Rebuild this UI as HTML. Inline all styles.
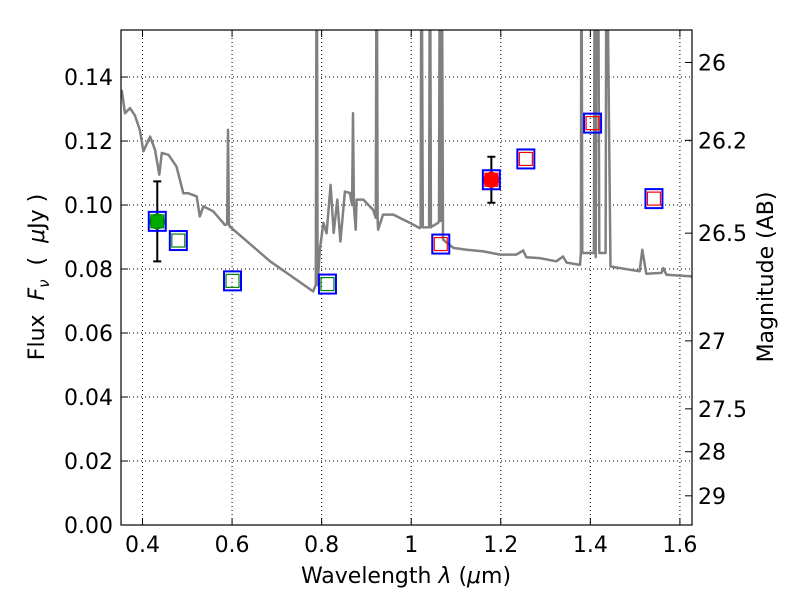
<!DOCTYPE html>
<html><head><meta charset="utf-8"><style>
body{margin:0;background:#fff;}
svg{display:block;font-family:"DejaVu Sans","Liberation Sans",sans-serif;}
</style></head><body>
<svg id="chart" width="800" height="600" viewBox="0 0 800 600" xmlns="http://www.w3.org/2000/svg">
<rect x="0" y="0" width="800" height="600" fill="#fff"/>
<g id="grid"></g>
<g id="spec"></g>
<g id="pts"></g>
<g id="axes"></g>
<text x="406" y="583" font-size="22" text-anchor="middle">Wavelength  <tspan font-style="italic">λ</tspan> (<tspan font-style="italic">μ</tspan>m)</text>
<text transform="translate(44,277) rotate(-90)" font-size="22" text-anchor="middle" xml:space="preserve">Flux  <tspan font-style="italic">F</tspan><tspan font-style="italic" font-size="15" dy="5">ν</tspan><tspan dy="-5">  (  </tspan><tspan font-style="italic">μ</tspan>Jy )</text>
<text transform="translate(773,277) rotate(-90)" font-size="22" text-anchor="middle">Magnitude (AB)</text>
</svg>
<script>
const xTicks=[0.4,0.6,0.8,1.0,1.2,1.4,1.6];
const xTickLabels=["0.4","0.6","0.8","1","1.2","1.4","1.6"];
const yTicks=[0,0.02,0.04,0.06,0.08,0.10,0.12,0.14];
const yTickLabels=["0.00","0.02","0.04","0.06","0.08","0.10","0.12","0.14"];
const magTicks=[26,26.2,26.5,27,27.5,28,29];
const magTickLabels=["26","26.2","26.5","27","27.5","28","29"];
const specLam=[0.3535,0.361,0.372,0.383,0.394,0.402,0.417,0.428,0.4375,0.443,0.458,0.476,0.491,0.502,0.521,0.528,0.536,0.558,0.584,0.589,0.591,0.593,0.595,0.685,0.781,0.787,0.789,0.791,0.796,0.804,0.811,0.82,0.827,0.835,0.842,0.852,0.863,0.868,0.87,0.872,0.876,0.878,0.893,0.915,0.921,0.923,0.925,0.926,0.937,0.96,0.997,1.019,1.021,1.023,1.026,1.04,1.042,1.044,1.046,1.06,1.062,1.064,1.066,1.068,1.071,1.094,1.124,1.161,1.198,1.235,1.25,1.257,1.287,1.324,1.339,1.347,1.377,1.379,1.380,1.382,1.408,1.410,1.412,1.414,1.417,1.420,1.434,1.436,1.445,1.51,1.516,1.525,1.559,1.563,1.57,1.628];
const specFlux=[0.136,0.1287,0.1303,0.128,0.1235,0.1168,0.1214,0.1173,0.1095,0.1163,0.1157,0.112,0.1037,0.1037,0.1027,0.0964,0.0996,0.098,0.0938,0.094,0.1235,0.094,0.0933,0.0824,0.073,0.075,0.2,0.075,0.086,0.0944,0.0912,0.1063,0.0913,0.1017,0.0886,0.1042,0.1038,0.1,0.1287,0.1,0.0923,0.1017,0.1017,0.0985,0.096,0.2,0.096,0.0923,0.097,0.097,0.0944,0.0928,0.093,0.2,0.093,0.093,0.2,0.093,0.0933,0.0944,0.095,0.2,0.095,0.2,0.0892,0.0866,0.086,0.0855,0.0845,0.0845,0.0858,0.0837,0.0834,0.0824,0.0839,0.082,0.0813,0.085,0.2,0.085,0.085,0.2,0.0837,0.2,0.2,0.085,0.085,0.2,0.0808,0.0793,0.086,0.0785,0.0788,0.0803,0.0782,0.0777];
const obsLam=[0.433,0.48,0.601,0.813,1.066,1.179,1.256,1.405,1.542];
const obsFlux=[0.0949,0.0889,0.0763,0.0753,0.0878,0.1079,0.1144,0.1256,0.102];
const obsColor=["green","green","green","green","red","red","red","red","red"];
const detLam=[0.433,1.179];
const detFlux=[0.0949,0.1079];
const detErr=[0.0125,0.0072];
const detColor=["#00aa00","red"];

const X0=121,X1=692,Y0=525,Y1=30,LMIN=0.352,LMAX=1.627,FMAX=0.1547;
const xs=l=>X0+(l-LMIN)/(LMAX-LMIN)*(X1-X0);
const ys=f=>Y0-f/FMAX*(Y0-Y1);
const magToF=m=>Math.pow(10,(23.9-m)/2.5);
const NS="http://www.w3.org/2000/svg";
function mk(tag,parent,attrs){const e=document.createElementNS(NS,tag);for(const k in attrs)e.setAttribute(k,attrs[k]);parent.appendChild(e);return e;}
const grid=document.getElementById('grid'),axes=document.getElementById('axes'),spec=document.getElementById('spec'),pts=document.getElementById('pts');

xTicks.forEach((t,i)=>{const x=xs(t);
 const g=mk('line',grid,{x1:x,x2:x,y1:Y1,y2:Y0,stroke:'#000','stroke-width':1,'stroke-dasharray':'1,3'});
 
 
 const a=mk('line',axes,{x1:x,x2:x,y1:Y0,y2:Y0-7,stroke:'#000','stroke-width':1});
 
 
 const b=mk('line',axes,{x1:x,x2:x,y1:Y1,y2:Y1+7,stroke:'#000','stroke-width':1});
 
 
 const tx=mk('text',axes,{x:x,y:Y0+27,'font-size':22,'text-anchor':'middle'});tx.textContent=xTickLabels[i];
 
 
});
yTicks.forEach((t,i)=>{const y=ys(t);
 const g=mk('line',grid,{x1:X0,x2:X1,y1:y,y2:y,stroke:'#000','stroke-width':1,'stroke-dasharray':'1,3'});
 
 
 const a=mk('line',axes,{x1:X0,x2:X0+7,y1:y,y2:y,stroke:'#000','stroke-width':1});
 
 
 const tx=mk('text',axes,{x:X0-8,y:y+8,'font-size':22,'text-anchor':'end'});tx.textContent=yTickLabels[i];
 
 
});
magTicks.forEach((m,i)=>{const y=ys(magToF(m));
 const a=mk('line',axes,{x1:X1,x2:X1-7,y1:y,y2:y,stroke:'#000','stroke-width':1});
 
 
 const tx=mk('text',axes,{x:X1+6,y:y+8,'font-size':22,'text-anchor':'start'});tx.textContent=magTickLabels[i];
 
 
});
const frame=mk('rect',axes,{x:X0,y:Y1,width:X1-X0,height:Y0-Y1,fill:'none',stroke:'#000','stroke-width':1.2});



const cp=mk('clipPath',spec,{id:'clip'});
mk('rect',cp,{x:X0,y:Y1,width:X1-X0,height:Y0-Y1});
const d=specLam.map((l,i)=>(i?'L':'M')+xs(l).toFixed(1)+','+ys(specFlux[i]).toFixed(1)).join('');
const p=mk('path',spec,{d:d,fill:'none',stroke:'#808080','stroke-width':2.5,'stroke-linejoin':'round','clip-path':'url(#clip)'});



detLam.forEach((l,i)=>{const x=xs(l),yt=ys(detFlux[i]+detErr[i]),yb=ys(detFlux[i]-detErr[i]);
 const e=mk('path',pts,{d:`M${x},${yt}L${x},${yb}M${x-4},${yt}L${x+4},${yt}M${x-4},${yb}L${x+4},${yb}`,stroke:'#000','stroke-width':2,fill:'none'});
 
 
 const c=mk('circle',pts,{cx:x,cy:ys(detFlux[i]),r:8,fill:detColor[i]});
 
 
});
obsLam.forEach((l,i)=>{const x=xs(l),y=ys(obsFlux[i]);
 const o=mk('rect',pts,{x:x-8.5,y:y-9.5,width:17,height:19,fill:'none',stroke:'blue','stroke-width':2});
 
 
 const m=mk('rect',pts,{x:x-6.5,y:y-6.5,width:13,height:13,fill:'none',stroke:obsColor[i],'stroke-width':1.2});
 
 
});
</script>
</body></html>
